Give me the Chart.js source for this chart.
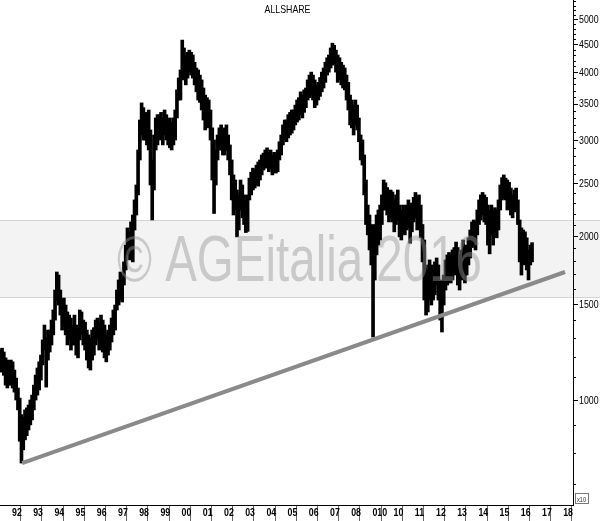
<!DOCTYPE html>
<html>
<head>
<meta charset="utf-8">
<script src="https://cdn.jsdelivr.net/npm/chart.js@4"></script>
<style>
  html, body { margin: 0; padding: 0; background: #fff; }
  #wrap { width: 600px; height: 521px; }
</style>
</head>
<body>
<div id="wrap"><canvas id="chart" width="600" height="521"></canvas></div>
<script>
// monthly bars, first one is Jul 1991
const startYear = 1991;
const startMonth = 6;

const highs = [
  1235, 1245, 1225, 1195, 1184, 1175,                                   // 1991 jul-dec
  1184, 1175, 1135, 1097, 1052, 1008, 940, 930, 959, 967, 979, 1000,    // 1992
  1021, 1065, 1111, 1145, 1175, 1209, 1289, 1373, 1300, 1344, 1344, 1402, // 1993
  1463, 1592, 1718, 1696, 1592, 1526, 1539, 1494, 1451, 1432, 1414, 1373, // 1994
  1432, 1373, 1344, 1463, 1451, 1402, 1390, 1344, 1317, 1300, 1344, 1358, // 1995
  1402, 1414, 1390, 1432, 1402, 1373, 1317, 1344, 1373, 1414, 1463, 1494, // 1996
  1592, 1661, 1718, 1675, 1793, 1925, 2070, 2036, 2123, 2186, 2330, 2482, // 1997
  2878, 3267, 3512, 3442, 3374, 3341, 3408, 3132, 2759, 3066, 3295, 3341, // 1998
  3341, 3374, 3295, 3408, 3341, 3267, 3295, 3239, 3295, 3408, 3710, 3902, // 1999
  4037, 4580, 4430, 4300, 4350, 4390, 4350, 4300, 4170, 4070, 4037, 3950, // 2000
  3870, 3740, 3630, 3590, 3555, 3408, 3160, 3002, 2878, 3066, 3160, 3200, // 2001
  3132, 3160, 3200, 3066, 2940, 2759, 2590, 2535, 2430, 2380, 2535, 2482, // 2002
  2380, 2330, 2380, 2555, 2620, 2665, 2644, 2700, 2735, 2759, 2818, 2840, // 2003
  2878, 2904, 2850, 2878, 2818, 2850, 2818, 2878, 2980, 3066, 3200, 3267, // 2004
  3267, 3341, 3374, 3408, 3408, 3480, 3555, 3590, 3680, 3630, 3710, 3740, // 2005
  3870, 3950, 4000, 3950, 3870, 3790, 3830, 3910, 4000, 4070, 4170, 4250, // 2006
  4300, 4430, 4520, 4480, 4390, 4300, 4250, 4170, 4120, 4070, 3950, 3830, // 2007
  3630, 3555, 3480, 3555, 3480, 3295, 3066, 3002, 2818, 2535, 2280, 2186, // 2008
  2100, 1967, 2100, 2186, 2233, 2280, 2380, 2535, 2505, 2455, 2410, 2430, // 2009
  2410, 2330, 2380, 2430, 2280, 2233, 2280, 2255, 2280, 2330, 2280, 2300, // 2010
  2355, 2405, 2355, 2380, 2280, 2100, 1967, 1770, 1733, 1808, 1770, 1733, // 2011
  1793, 1823, 1770, 1661, 1626, 1696, 1808, 1847, 1866, 1847, 1886, 1905, // 2012
  1950, 1905, 1847, 1886, 1967, 1905, 1925, 1985, 2052, 2123, 2141, 2123, // 2013
  2233, 2330, 2380, 2405, 2380, 2355, 2280, 2233, 2280, 2233, 2255, 2233, // 2014
  2330, 2482, 2560, 2590, 2555, 2535, 2510, 2450, 2380, 2430, 2450, 2330, // 2015
  2141, 2070, 2052, 2036, 1985, 1886, 1925, 1945                          // 2016 jan-aug
];

const lows = [
  1125, 1160, 1110, 1065, 1052, 1065,                                   // 1991 jul-dec
  1065, 1052, 1034, 1000, 959, 840, 766, 810, 845, 860, 881, 900,       // 1992
  919, 959, 1000, 1021, 1043, 1088, 1160, 1235, 1056, 1184, 1225, 1262, // 1993
  1317, 1402, 1526, 1494, 1432, 1344, 1373, 1317, 1262, 1289, 1235, 1262, // 1994
  1262, 1209, 1195, 1289, 1317, 1262, 1235, 1184, 1145, 1135, 1184, 1209, // 1995
  1262, 1289, 1235, 1262, 1225, 1195, 1175, 1209, 1235, 1278, 1317, 1344, // 1996
  1463, 1494, 1526, 1513, 1626, 1733, 1847, 1808, 1886, 1793, 2052, 2186, // 1997
  2380, 2759, 3066, 3002, 3002, 2940, 2878, 2482, 2141, 2430, 2878, 2940, // 1998
  3002, 3028, 2940, 3066, 3002, 2940, 2904, 2878, 2940, 3002, 3295, 3555, // 1999
  3555, 3870, 3950, 3790, 3900, 4000, 3950, 3900, 3790, 3680, 3555, 3520, // 2000
  3408, 3267, 3132, 3200, 3160, 3002, 2535, 2200, 2482, 2759, 2878, 2878, // 2001
  2818, 2818, 2878, 2759, 2590, 2330, 2186, 2233, 1993, 2052, 2233, 2160, // 2002
  2100, 2030, 2040, 2330, 2380, 2430, 2450, 2482, 2470, 2535, 2590, 2644, // 2003
  2665, 2700, 2625, 2665, 2590, 2644, 2610, 2625, 2759, 2818, 2940, 3002, // 2004
  2980, 3028, 3066, 3090, 3132, 3200, 3239, 3267, 3341, 3295, 3374, 3442, // 2005
  3555, 3590, 3630, 3555, 3442, 3480, 3555, 3610, 3680, 3740, 3830, 3950, // 2006
  4000, 4070, 4120, 4150, 4000, 3830, 3870, 3790, 3740, 3710, 3555, 3408, // 2007
  3200, 3160, 3066, 3200, 3132, 2980, 2759, 2700, 2380, 2100, 2010, 1886, // 2008
  1770, 1305, 1661, 1847, 1925, 1967, 2100, 2233, 2233, 2186, 2123, 2160, // 2009
  2123, 2036, 2100, 2141, 1993, 1967, 2036, 2010, 2052, 2070, 1940, 2036, // 2010
  2123, 2160, 2052, 2100, 1985, 1793, 1526, 1432, 1451, 1526, 1494, 1526, // 2011
  1560, 1626, 1526, 1402, 1333, 1494, 1592, 1626, 1675, 1640, 1661, 1696, // 2012
  1733, 1626, 1592, 1661, 1748, 1640, 1696, 1770, 1823, 1905, 1925, 1886, // 2013
  2010, 2100, 2141, 2186, 2123, 2100, 1925, 1855, 2010, 1925, 2036, 1985, // 2014
  2052, 2233, 2330, 2350, 2330, 2233, 2280, 2186, 2160, 2215, 2233, 2100, // 2015
  1793, 1696, 1770, 1808, 1733, 1661, 1770, 1793                          // 2016 jan-aug
];

// support line drawn on the chart
const trendX = [1992.57, 2018.18];
const trendY = [766, 1718];

const yearTicks = [1992, 1993, 1994, 1995, 1996, 1997, 1998, 1999, 2000, 2001, 2002, 2003, 2004,
  2005, 2006, 2007, 2008, 2009, 2010, 2011, 2012, 2013, 2014, 2015, 2016, 2017, 2018];
const yearLabels = ['92', '93', '94', '95', '96', '97', '98', '99', '00', '01', '02', '03', '04',
  '05', '06', '07', '08', '010', '10', '11', '12', '13', '14', '15', '16', '17', '18'];

const priceTicks = [1000, 1500, 2000, 2500, 3000, 3500, 4000, 4500, 5000];
const minorTicks = [700, 800, 900, 1000, 1100, 1200, 1300, 1400, 1500, 1600, 1700, 1800, 1900,
  2000, 2100, 2200, 2300, 2400, 2500, 2600, 2700, 2800, 2900, 3000, 3100, 3200, 3300, 3400,
  3500, 3600, 3700, 3800, 3900, 4000, 4100, 4200, 4300, 4400, 4500, 4600, 4700, 4800, 4900,
  5000, 5100, 5200, 5300, 5400];

const FONT = '"Liberation Sans", Arial, sans-serif';
const SQUEEZE = 0.8; // the original uses a narrow face

const bars = highs.map((h, i) => {
  const m = startMonth + i;
  return { x: startYear + (m + 0.5) / 12, y: [lows[i], h] };
});

function narrowText(ctx, text, x, y, align) {
  ctx.save();
  ctx.translate(x, y);
  ctx.scale(SQUEEZE, 1);
  ctx.textAlign = align;
  ctx.fillText(text, 0, 0);
  ctx.restore();
}

const extras = {
  id: 'extras',
  beforeDraw(chart) {
    const ctx = chart.ctx;
    ctx.save();
    ctx.fillStyle = '#f3f3f3';
    ctx.fillRect(0, 220, chart.width, 78);
    ctx.strokeStyle = '#d4d4d4';
    ctx.lineWidth = 1;
    ctx.beginPath();
    ctx.moveTo(0, 220.5); ctx.lineTo(chart.width, 220.5);
    ctx.moveTo(0, 297.5); ctx.lineTo(chart.width, 297.5);
    ctx.stroke();
    ctx.restore();
  },
  afterDatasetsDraw(chart) {
    const ctx = chart.ctx;
    ctx.save();
    ctx.font = '64px ' + FONT;
    const txt = '\u00A9 AGEitalia 2016';
    const w = ctx.measureText(txt).width;
    ctx.translate(117, 281);
    ctx.scale(365 / w, 1);
    ctx.fillStyle = 'rgba(150,150,150,0.45)';
    ctx.textBaseline = 'alphabetic';
    ctx.fillText(txt, 0, 0);
    ctx.restore();
  },
  afterDraw(chart) {
    const ctx = chart.ctx;
    const xs = chart.scales.x;
    const ys = chart.scales.y;
    const area = chart.chartArea;
    ctx.save();
    // price axis tick marks
    ctx.strokeStyle = '#000';
    ctx.lineWidth = 1;
    ctx.beginPath();
    minorTicks.forEach(v => {
      const py = Math.round(ys.getPixelForValue(v)) + 0.5;
      const len = priceTicks.includes(v) ? 5 : 3;
      ctx.moveTo(area.right, py);
      ctx.lineTo(area.right + len, py);
    });
    ctx.stroke();
    ctx.fillStyle = '#000';
    // price labels
    ctx.font = '11px ' + FONT;
    ctx.textBaseline = 'middle';
    priceTicks.forEach(v => {
      narrowText(ctx, String(v), area.right + 6, ys.getPixelForValue(v) + 0.5, 'left');
    });
    // year labels
    ctx.font = 'bold 11px ' + FONT;
    ctx.textBaseline = 'alphabetic';
    yearTicks.forEach((v, i) => {
      narrowText(ctx, yearLabels[i], xs.getPixelForValue(v) + 2, 516, 'left');
    });
    // title
    ctx.font = '11px ' + FONT;
    narrowText(ctx, 'ALLSHARE', (area.left + area.right) / 2 + 1, 13, 'center');
    // x10 box
    ctx.strokeStyle = '#777';
    ctx.strokeRect(575.5, 493.5, 13, 10);
    ctx.font = '7px ' + FONT;
    ctx.fillStyle = '#333';
    narrowText(ctx, 'x10', 577, 501.5, 'left');
    ctx.restore();
  }
};

new Chart(document.getElementById('chart'), {
  type: 'bar',
  data: {
    datasets: [
      {
        type: 'line',
        data: trendX.map((x, i) => ({ x, y: trendY[i] })),
        borderColor: '#8a8a8a',
        borderWidth: 4,
        pointRadius: 0,
        order: 0
      },
      {
        type: 'bar',
        data: bars,
        backgroundColor: '#000',
        borderWidth: 0,
        barThickness: 3,
        order: 1
      }
    ]
  },
  options: {
    responsive: false,
    devicePixelRatio: 1,
    animation: false,
    layout: { padding: 0 },
    plugins: {
      legend: { display: false },
      tooltip: { enabled: false },
      title: { display: false }
    },
    scales: {
      x: {
        type: 'linear',
        position: 'bottom',
        min: 1991.5283,
        max: 2018.5566,
        offset: false,
        afterBuildTicks: scale => { scale.ticks = yearTicks.map(v => ({ value: v })); },
        afterFit: scale => { scale.height = 16; },
        grid: { drawOnChartArea: false, drawTicks: true, tickLength: 16, color: '#666' },
        border: { display: true, color: '#000', width: 1 },
        ticks: { display: false, autoSkip: false, maxRotation: 0 }
      },
      y: {
        type: 'logarithmic',
        position: 'right',
        min: 641.5,
        max: 5426,
        afterBuildTicks: scale => { scale.ticks = priceTicks.map(v => ({ value: v })); },
        afterFit: scale => { scale.width = 27; },
        grid: { display: false, drawTicks: false },
        border: { display: true, color: '#000', width: 1 },
        ticks: { display: false, autoSkip: false }
      }
    }
  },
  plugins: [extras]
});
</script>
</body>
</html>
